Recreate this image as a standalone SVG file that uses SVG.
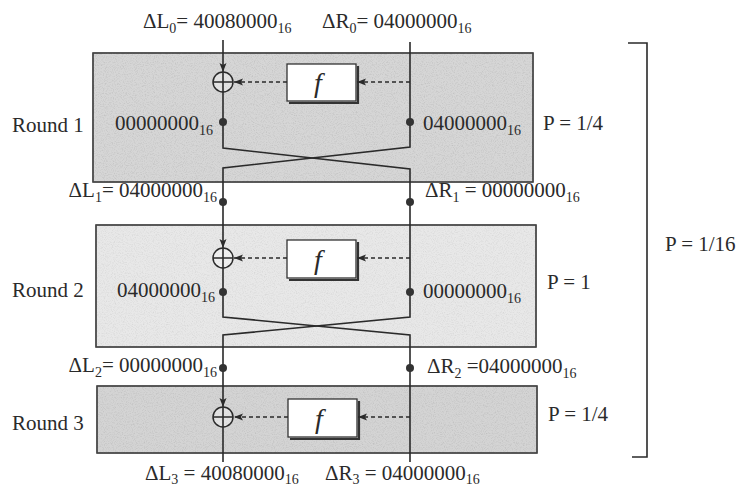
<svg xmlns="http://www.w3.org/2000/svg" width="737" height="490" viewBox="0 0 737 490">
<style>
  text { font-family: "Liberation Serif", "Times New Roman", serif; font-size: 21px; fill: #2a2a2a; }
  .sub { font-size: 14px; }
  .box { stroke: #444; stroke-width: 1.3; }
  .r1 { fill: #d6d6d6; }
  .r2 { fill: #e8e8e8; }
  .r3 { fill: #d4d4d4; }
  .fbox { fill: #ffffff; stroke: #333; stroke-width: 1.3; }
  .shadow { fill: none; stroke: #333; stroke-width: 2.2; }
  .line { fill: none; stroke: #2a2a2a; stroke-width: 1.6; }
  .dash { fill: none; stroke: #2a2a2a; stroke-width: 1.5; stroke-dasharray: 4 3; }
  .xor { fill: #fff; fill-opacity: 0.35; stroke: #2a2a2a; stroke-width: 1.5; }
  .dot { fill: #333; }
  .fl { font-style: italic; font-size: 28px; }
</style>
<defs>
  <marker id="arr" markerUnits="userSpaceOnUse" markerWidth="10" markerHeight="8" refX="9" refY="4" orient="auto">
    <path d="M0,0.5 L9,4 L0,7.5 L2,4 z" fill="#2a2a2a"/>
  </marker>
  <filter id="noise" x="0" y="0" width="100%" height="100%">
    <feTurbulence type="fractalNoise" baseFrequency="0.9" numOctaves="2" seed="7" result="t"/>
    <feColorMatrix in="t" type="matrix" values="0 0 0 0 0.4  0 0 0 0 0.4  0 0 0 0 0.4  2 0 0 0 -0.9"/>
  </filter>
</defs>
<rect width="737" height="490" fill="#ffffff"/>

<!-- Round boxes -->
<g id="round1">
  <rect class="box r1" x="93" y="53" width="440" height="129"/>
  <rect x="93" y="53" width="440" height="129" filter="url(#noise)" fill="#000" opacity="0.5"/>
  <rect x="93" y="53" width="440" height="129" fill="none" stroke="#444" stroke-width="1.3"/>
  <text x="12" y="132">Round 1</text>
  <text x="543" y="130">P = 1/4</text>
</g>
<g id="round2">
  <rect class="box r2" x="96" y="225" width="440" height="122"/>
  <rect x="96" y="225" width="440" height="122" filter="url(#noise)" fill="#000" opacity="0.3"/>
  <rect x="96" y="225" width="440" height="122" fill="none" stroke="#444" stroke-width="1.3"/>
  <text x="12" y="297">Round 2</text>
  <text x="547" y="289">P = 1</text>
</g>
<g id="round3">
  <rect class="box r3" x="97" y="386" width="440" height="67"/>
  <rect x="97" y="386" width="440" height="67" filter="url(#noise)" fill="#000" opacity="0.5"/>
  <rect x="97" y="386" width="440" height="67" fill="none" stroke="#444" stroke-width="1.3"/>
  <text x="12" y="430">Round 3</text>
  <text x="548" y="421">P = 1/4</text>
</g>

<!-- f functions -->
<g id="f1">
  <path class="shadow" d="M358,66 V103 H289"/>
  <rect class="fbox" x="287" y="64" width="69" height="37"/>
  <text class="fl" x="314" y="92">f</text>
</g>
<g id="f2">
  <path class="shadow" d="M358,242 V280 H289"/>
  <rect class="fbox" x="287" y="240" width="69" height="38"/>
  <text class="fl" x="314" y="269">f</text>
</g>
<g id="f3">
  <path class="shadow" d="M359,401 V439 H290"/>
  <rect class="fbox" x="288" y="399" width="69" height="38"/>
  <text class="fl" x="315" y="428">f</text>
</g>

<!-- XOR nodes -->
<g id="xor1">
  <circle class="xor" cx="223" cy="82" r="10"/>
  <path class="line" d="M213,82 H233 M223,72 V92"/>
</g>
<g id="xor2">
  <circle class="xor" cx="223" cy="258" r="10"/>
  <path class="line" d="M213,258 H233 M223,248 V268"/>
</g>
<g id="xor3">
  <circle class="xor" cx="223" cy="417" r="10"/>
  <path class="line" d="M213,417 H233 M223,407 V427"/>
</g>

<!-- Connectors -->
<g id="connectors">
  <path class="line" d="M223,40 V72" marker-end="url(#arr)"/>
  <path class="line" d="M223,92 V148 L410,169 V317 L223,335 V407" marker-end="url(#arr)"/>
  <path class="line" d="M410,42 V147 L223,168 V248" marker-end="url(#arr)"/>
  <path class="line" d="M223,268 V317 L410,335 V462"/>
  <path class="line" d="M223,427 V462"/>
  <path class="dash" d="M410,82 H357" marker-end="url(#arr)"/>
  <path class="dash" d="M287,82 H234" marker-end="url(#arr)"/>
  <path class="dash" d="M410,258 H357" marker-end="url(#arr)"/>
  <path class="dash" d="M287,258 H234" marker-end="url(#arr)"/>
  <path class="dash" d="M410,417 H358" marker-end="url(#arr)"/>
  <path class="dash" d="M288,417 H234" marker-end="url(#arr)"/>
  <path class="line" d="M628,43 H647 V457 H632" stroke-width="1.4"/>
</g>

<!-- Dots -->
<g id="dots">
  <circle class="dot" cx="223" cy="122" r="4"/>
  <circle class="dot" cx="410" cy="122" r="4"/>
  <circle class="dot" cx="223" cy="202" r="4"/>
  <circle class="dot" cx="410" cy="202" r="4"/>
  <circle class="dot" cx="223" cy="292" r="4"/>
  <circle class="dot" cx="410" cy="292" r="4"/>
  <circle class="dot" cx="223" cy="368" r="4"/>
  <circle class="dot" cx="410" cy="368" r="4"/>
</g>

<!-- Labels -->
<g id="labels">
  <text x="143" y="28">ΔL<tspan class="sub" dy="5">0</tspan><tspan dy="-5">= 40080000</tspan><tspan class="sub" dy="5">16</tspan></text>
  <text x="322" y="28">ΔR<tspan class="sub" dy="5">0</tspan><tspan dy="-5">= 04000000</tspan><tspan class="sub" dy="5">16</tspan></text>

  <text x="213" y="130" text-anchor="end">00000000<tspan class="sub" dy="5">16</tspan></text>
  <text x="423" y="130">04000000<tspan class="sub" dy="5">16</tspan></text>

  <text x="217" y="197" text-anchor="end">ΔL<tspan class="sub" dy="5">1</tspan><tspan dy="-5">= 04000000</tspan><tspan class="sub" dy="5">16</tspan></text>
  <text x="425" y="197">ΔR<tspan class="sub" dy="5">1</tspan><tspan dy="-5"> = 00000000</tspan><tspan class="sub" dy="5">16</tspan></text>

  <text x="215" y="297" text-anchor="end">04000000<tspan class="sub" dy="5">16</tspan></text>
  <text x="423" y="298">00000000<tspan class="sub" dy="5">16</tspan></text>

  <text x="217" y="372" text-anchor="end">ΔL<tspan class="sub" dy="5">2</tspan><tspan dy="-5">= 00000000</tspan><tspan class="sub" dy="5">16</tspan></text>
  <text x="427" y="373">ΔR<tspan class="sub" dy="5">2</tspan><tspan dy="-5"> =04000000</tspan><tspan class="sub" dy="5">16</tspan></text>

  <text x="145" y="480">ΔL<tspan class="sub" dy="4">3</tspan><tspan dy="-4"> = 40080000</tspan><tspan class="sub" dy="4">16</tspan></text>
  <text x="325" y="480">ΔR<tspan class="sub" dy="4">3</tspan><tspan dy="-4"> = 04000000</tspan><tspan class="sub" dy="4">16</tspan></text>

  <text x="665" y="251">P = 1/16</text>
</g>
</svg>
